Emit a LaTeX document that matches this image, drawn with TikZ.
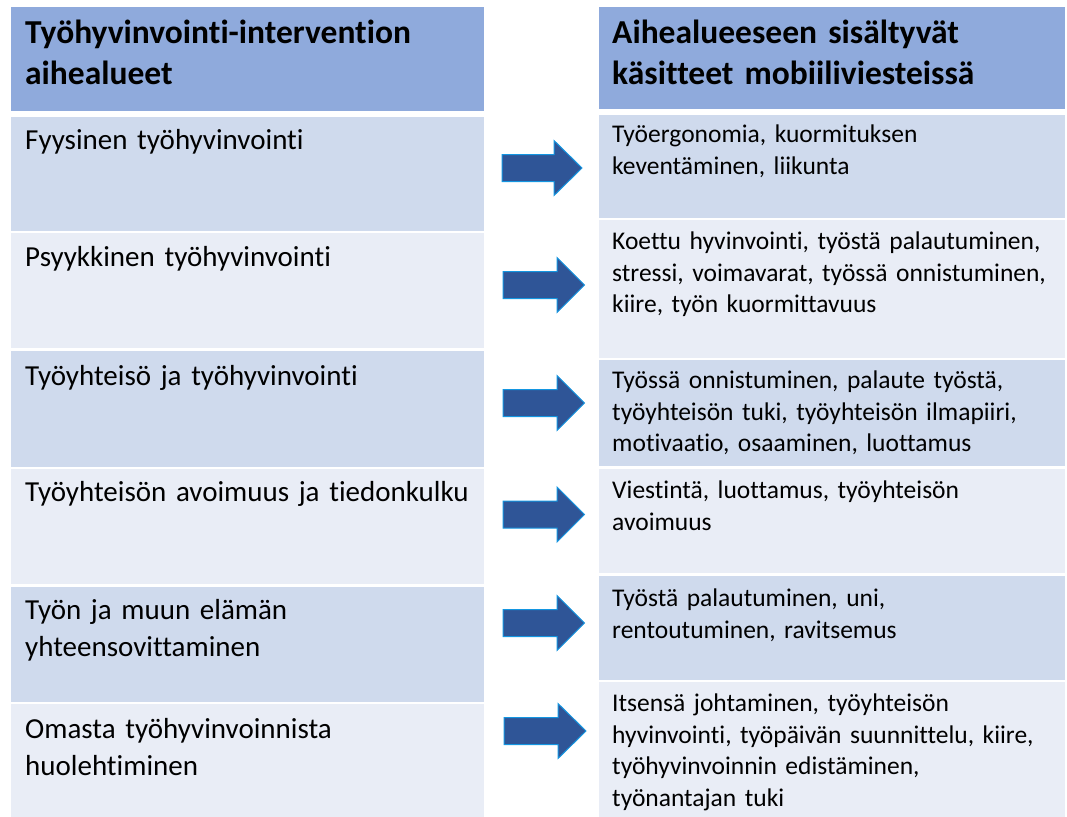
\documentclass[tikz,border=0pt]{standalone}
\usepackage{fontspec}
\setmainfont{Carlito}[Ligatures=NoCommon]
\definecolor{hdr}{RGB}{143,170,220}
\definecolor{rowA}{RGB}{207,218,237}
\definecolor{rowB}{RGB}{233,237,246}
\definecolor{arrfill}{RGB}{47,85,151}
\definecolor{arredge}{RGB}{20,150,225}
\begin{document}
\begin{tikzpicture}[x=1pt,y=-1pt,
  hdrtxt/.style={anchor=base west,inner sep=0pt,align=left,text width=480pt,font=\fontsize{33.5}{41}\selectfont\bfseries},
  ltxt/.style={anchor=base west,inner sep=0pt,align=left,text width=460pt,font=\fontsize{29}{37}\selectfont},
  rtxt/.style={anchor=base west,inner sep=0pt,align=left,text width=460pt,font=\fontsize{25.5}{31.5}\selectfont},
  blockarrow/.style={fill=arrfill,draw=arredge,line width=1pt,line join=miter}]
\useasboundingbox (0,0) rectangle (1067,816);
\begin{scope}
\clip (0,0) rectangle (1067,816);
% left column
\fill[hdr]  (11,7)   rectangle (484,111);
\fill[rowA] (11,117) rectangle (484,231);
\fill[rowB] (11,233) rectangle (484,348);
\fill[rowA] (11,351) rectangle (484,467);
\fill[rowB] (11,469) rectangle (484,584);
\fill[rowA] (11,587) rectangle (484,702);
\fill[rowB] (11,704) rectangle (484,820);
% right column
\fill[hdr]  (599,7)   rectangle (1065,109);
\fill[rowA] (599,115) rectangle (1065,218);
\fill[rowB] (599,220) rectangle (1065,358);
\fill[rowA] (599,360) rectangle (1065,466);
\fill[rowB] (599,469) rectangle (1065,573);
\fill[rowA] (599,576) rectangle (1065,680);
\fill[rowB] (599,682) rectangle (1065,820);
\end{scope}
% headers
\node[hdrtxt] (lh) at (25,43.5) {Työhyvinvointi-intervention\\aihealueet};
\node[hdrtxt] (rh) at (612,43.5) {Aihealueeseen sisältyvät\\käsitteet mobiiliviesteissä};
% left texts
\node[ltxt] (l1) at (25,149.5) {Fyysinen työhyvinvointi};
\node[ltxt] (l2) at (25,266.5) {Psyykkinen työhyvinvointi};
\node[ltxt] (l3) at (25,385.5) {Työyhteisö ja työhyvinvointi};
\node[ltxt] (l4) at (25,501.5) {Työyhteisön avoimuus ja tiedonkulku};
\node[ltxt] (l5) at (25,619.5) {Työn ja muun elämän\\yhteensovittaminen};
\node[ltxt] (l6) at (25,738.5) {Omasta työhyvinvoinnista\\huolehtiminen};
% right texts
\node[rtxt] (r1) at (612,142.5) {Työergonomia, kuormituksen\\keventäminen, liikunta};
\node[rtxt] (r2) at (612,249.5) {Koettu hyvinvointi, työstä palautuminen,\\stressi, voimavarat, työssä onnistuminen,\\kiire, työn kuormittavuus};
\node[rtxt] (r3) at (612,388.5) {Työssä onnistuminen, palaute työstä,\\työyhteisön tuki, työyhteisön ilmapiiri,\\motivaatio, osaaminen, luottamus};
\node[rtxt] (r4) at (612,498.5) {Viestintä, luottamus, työyhteisön\\avoimuus};
\node[rtxt] (r5) at (612,606.5) {Työstä palautuminen, uni,\\rentoutuminen, ravitsemus};
\node[rtxt] (r6) at (612,711.5) {Itsensä johtaminen, työyhteisön\\hyvinvointi, työpäivän suunnittelu, kiire,\\työhyvinvoinnin edistäminen,\\työnantajan tuki};
% block arrows: tail x, head-base x, tip x, centre y
\foreach \xa/\xb/\xc/\yc in {502/554/582/168, 503/557/584.5/285, 503/557/584.5/403,
                             503/557/584.5/514.5, 503/557/584.5/623, 504/558/586/731}{
  \draw[blockarrow] (\xa,\yc-13.5) -- (\xb,\yc-13.5) -- (\xb,\yc-27.5) -- (\xc,\yc)
    -- (\xb,\yc+27.5) -- (\xb,\yc+13.5) -- (\xa,\yc+13.5) -- cycle;
}
\end{tikzpicture}
\end{document}
